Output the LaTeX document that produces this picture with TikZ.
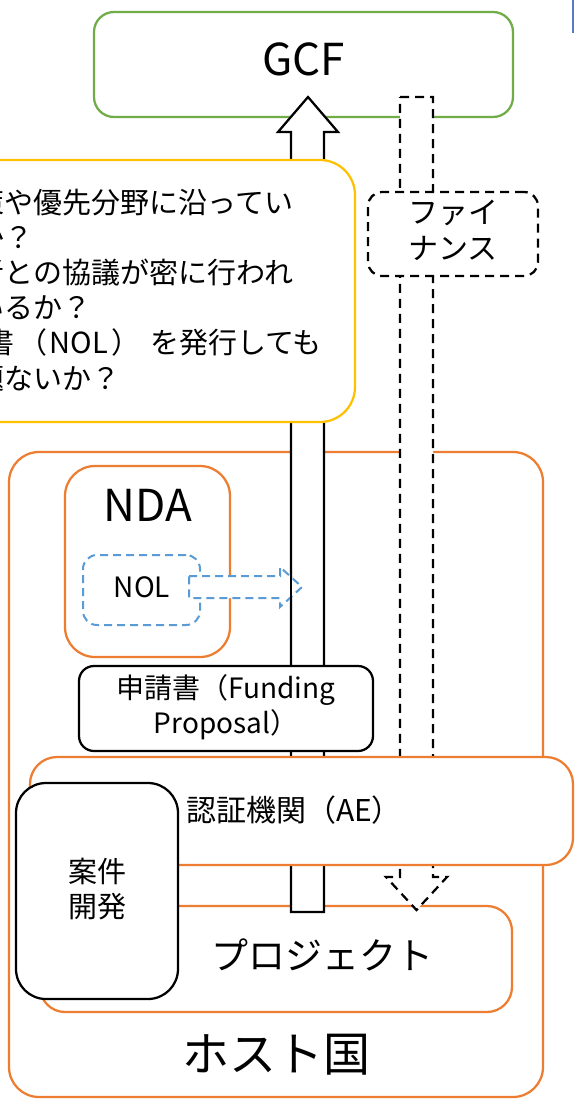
\documentclass[tikz,border=0pt]{standalone}
\usepackage{fontspec}
\setmainfont{Noto Sans CJK JP}
\definecolor{gcfgreen}{HTML}{70AD47}
\definecolor{hostorange}{HTML}{ED7D31}
\definecolor{qyellow}{HTML}{FFC000}
\definecolor{nolblue}{HTML}{5B9BD5}
\definecolor{edgeblue}{HTML}{5B7BC0}
\begin{document}
\begin{tikzpicture}[x=1pt,y=-1pt,
  every node/.style={inner sep=0pt, outer sep=0pt},
  panel/.style={draw, fill=white, line width=2.25pt, rectangle},
  orangebox/.style={panel, draw=hostorange},
  blackbox/.style={panel, draw=black},
  dashbox/.style={panel, draw=black, dash pattern=on 9pt off 6pt},
  blockarrow/.style={draw=black, fill=white, line width=2.25pt, line join=miter},
  dasharrow/.style={blockarrow, dash pattern=on 9pt off 6pt},
  nolarrow/.style={draw=nolblue, fill=white, line width=2pt, dash pattern=on 8pt off 5pt},
  big/.style={font=\fontsize{44}{50}\selectfont},
  huge/.style={font=\fontsize{47}{52}\selectfont},
  mid/.style={font=\fontsize{37}{42}\selectfont},
  body/.style={font=\fontsize{29}{35.2}\selectfont, align=center},
  small/.style={font=\fontsize{28}{35}\selectfont, align=center}
]
\useasboundingbox (0,0) rectangle (574,1101);
\clip (0,0) rectangle (574,1101);
\fill[white] (0,0) rectangle (574,1101);

% host country
\node[orangebox, rounded corners=30pt, minimum width=534, minimum height=645] (host) at (276,774.5) {};
\node[huge] (hostt) at (276,1055) {ホスト国};

% project
\node[orangebox, rounded corners=25pt, minimum width=472, minimum height=106] (proj) at (276,959) {};
\node[mid] (projt) at (322,955) {プロジェクト};

% NDA and NOL
\node[orangebox, rounded corners=30pt, minimum width=165, minimum height=191] (nda) at (147.5,561.5) {};
\node[big] (ndat) at (148,505) {NDA};
\node[panel, draw=nolblue, line width=2pt, dash pattern=on 8pt off 5pt, rounded corners=14pt, minimum width=117, minimum height=70] (nol) at (141.5,590) {};
\node[small] (nolt) at (142,587) {NOL};

% GCF
\node[panel, draw=gcfgreen, rounded corners=20pt, minimum width=419, minimum height=105] (gcf) at (303.5,64.5) {};
\node[big] (gcft) at (303.5,59) {GCF};

% application arrow (up)
\coordinate (uptip) at (308,97);
\draw[blockarrow] (uptip) -- (338,132) -- (324,132) -- (324,912) -- (291,912) -- (291,132) -- (278,132) -- cycle;

% question box (drawn over the arrow)
\node[panel, draw=qyellow, rounded corners=35pt, minimum width=655, minimum height=262] (quest) at (27.5,291) {};
\node[body, anchor=west, align=left] (questt) at (-24,290) {策や優先分野に沿ってい\\か？\\者との協議が密に行われ\\いるか？\\\hspace*{10pt}書\hspace*{4pt}（\hspace*{2pt}NOL\hspace*{3pt}）\hspace*{10pt}を発行しても\\題ないか？};

% finance arrow (down)
\coordinate (downtip) at (416.5,910);
\draw[dasharrow] (400,97) -- (433,97) -- (433,877) -- (447,877) -- (downtip) -- (386,877) -- (400,877) -- cycle;
\node[dashbox, rounded corners=14pt, minimum width=170, minimum height=84] (fin) at (453,234) {};
\node[body, font=\fontsize{30}{36}\selectfont] (fint) at (453,230) {ファイ\\ナンス};

% NOL arrow
\coordinate (noltip) at (302,587);
\draw[nolarrow] (189,576) -- (280,576) -- (280,567) -- (noltip) -- (280,607) -- (280,598) -- (189,598) -- cycle;
\draw[black, line width=2.25pt] (291,560) -- (291,615);

% funding proposal
\node[blackbox, rounded corners=15pt, minimum width=294, minimum height=85] (fund) at (226,708.5) {};
\node[small] (fundt) at (226,707.5) {申請書（Funding\\Proposal）};

% accredited entity
\node[orangebox, rounded corners=27pt, minimum width=543, minimum height=108] (ae) at (301.5,811) {};
\node[body, font=\fontsize{30}{36}\selectfont] (aet) at (294,810) {認証機関（AE）};

% project development
\node[blackbox, rounded corners=30pt, minimum width=162, minimum height=216] (dev) at (97,891) {};
\node[body] (devt) at (97,889) {案件\\開発};

% cut-off element at top right
\coordinate (edgeA) at (573,0);
\coordinate (edgeB) at (573,33);
\draw[edgeblue, line width=2pt] (edgeA) -- (edgeB);
\end{tikzpicture}
\end{document}
